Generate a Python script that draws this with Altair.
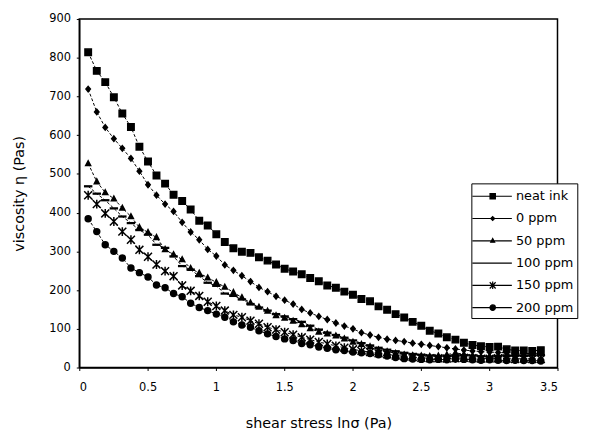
import altair as alt
import pandas as pd

# shear stress ln(sigma) grid (Pa)
x_vals = [0.065, 0.128, 0.19, 0.253, 0.315, 0.378, 0.44, 0.503, 0.565, 0.628,
          0.69, 0.753, 0.815, 0.878, 0.94, 1.003, 1.065, 1.128, 1.19, 1.253,
          1.315, 1.378, 1.44, 1.503, 1.565, 1.628, 1.69, 1.753, 1.815, 1.878,
          1.94, 2.003, 2.065, 2.128, 2.19, 2.253, 2.315, 2.378, 2.44, 2.503,
          2.565, 2.628, 2.69, 2.753, 2.815, 2.878, 2.94, 3.003, 3.065, 3.128,
          3.19, 3.253, 3.315, 3.378]

neat_ink = [814, 766, 737, 698, 656, 621, 570, 532, 496, 475,
            446, 430, 408, 379, 367, 344, 324, 308, 299, 296,
            285, 276, 266, 255, 248, 241, 231, 223, 212, 206,
            196, 188, 177, 171, 158, 149, 138, 129, 118, 108,
            95, 88, 78, 72, 64, 58, 55, 53, 54, 47,
            44, 44, 43, 45]

ppm_0 = [719, 660, 620, 591, 566, 540, 507, 472, 445, 422,
         403, 375, 350, 330, 305, 288, 265, 251, 237, 222,
         207, 196, 184, 174, 164, 150, 141, 132, 124, 115,
         107, 100, 90, 84, 78, 73, 70, 67, 63, 60,
         57, 54, 51, 48, 45, 43, 41, 40, 39, 38,
         37, 36, 36, 35]

ppm_50 = [527, 480, 452, 436, 412, 390, 362, 349, 336, 305,
          292, 279, 256, 244, 232, 220, 208, 194, 181, 167,
          156, 146, 134, 128, 120, 111, 101, 92, 87, 82,
          74, 66, 60, 54, 46, 41, 37, 33, 31, 30,
          29, 30, 33, 38, 34, 30, 28, 29, 31, 33,
          34, 35, 36, 37]

ppm_100 = [468, 449, 432, 411, 390, 373, 355, 343, 317, 309,
           287, 262, 253, 236, 219, 211, 191, 185, 176, 164,
           155, 147, 138, 132, 125, 118, 108, 98, 90, 84,
           77, 70, 63, 57, 51, 46, 42, 38, 35, 33,
           31, 30, 29, 30, 32, 31, 29, 28, 29, 30,
           31, 30, 31, 32]

ppm_150 = [445, 422, 398, 377, 351, 330, 304, 286, 266, 249,
           236, 212, 198, 185, 170, 159, 147, 136, 130, 121,
           113, 104, 98, 91, 85, 78, 72, 66, 61, 56,
           51, 47, 43, 40, 37, 34, 31, 29, 27, 25,
           24, 24, 23, 24, 25, 24, 23, 23, 24, 23,
           22, 23, 22, 22]

ppm_200 = [384, 351, 317, 300, 283, 257, 245, 234, 213, 206,
           191, 183, 166, 155, 147, 138, 130, 118, 110, 104,
           95, 87, 80, 74, 70, 62, 59, 53, 50, 46,
           44, 40, 38, 36, 33, 30, 26, 23, 22, 21,
           20, 21, 20, 22, 21, 20, 19, 20, 19, 18,
           19, 18, 18, 17]

series_names = ["neat ink", "0 ppm", "50 ppm", "100 ppm", "150 ppm", "200 ppm"]
series_values = [neat_ink, ppm_0, ppm_50, ppm_100, ppm_150, ppm_200]

rows = []
for name, vals in zip(series_names, series_values):
    for xv, yv in zip(x_vals, vals):
        rows.append({"x": xv, "y": yv, "series": name})
df = pd.DataFrame(rows)

# plot marker shapes (unit space, size=100 -> 5px per unit)
plot_shapes = [
    "M-0.65,-0.65H0.65V0.65H-0.65Z",
    "M0,-0.55L0.45,0L0,0.55L-0.45,0Z",
    "M0,-0.55L0.5,0.4H-0.5Z",
    "M-0.7,-0.08H0.7V0.08H-0.7Z",
    "M-0.8,-0.8L0.8,0.8M-0.8,0.8L0.8,-0.8M0,-0.9V0.9",
    "M-0.6,0A0.6,0.6,0,1,1,0.6,0A0.6,0.6,0,1,1,-0.6,0Z",
]

# legend symbols: line with marker (unit = 9px at size 324)
legend_shapes = [
    "M-1.33,0H3.1M0.65,-0.3H1.25V0.3H0.65Z",
    "M-1.33,0H3.1M0.95,-0.22L1.17,0L0.95,0.22L0.73,0Z",
    "M-1.33,0H3.1M0.95,-0.25L1.17,0.15H0.73Z",
    "M-1.33,0H3.1",
    "M-1.33,0H3.1M0.62,-0.35L1.28,0.35M0.62,0.35L1.28,-0.35M0.95,-0.42V0.42",
    "M-1.33,0H3.1M0.65,0A0.3,0.3,0,1,1,1.25,0A0.3,0.3,0,1,1,0.65,0Z",
]

FONT = "DejaVu Sans"

x_enc = alt.X("x:Q", scale=alt.Scale(domain=[0, 3.5], nice=False),
              axis=alt.Axis(title="shear stress lnσ (Pa)",
                            values=[0, 0.5, 1, 1.5, 2, 2.5, 3, 3.5],
                            format=".1~f", grid=False))
y_enc = alt.Y("y:Q", scale=alt.Scale(domain=[0, 900], nice=False),
              axis=alt.Axis(title="viscosity η (Pas)",
                            values=list(range(0, 901, 100)), grid=False))

lines = alt.Chart(df).mark_line(color="black", strokeWidth=1,
                                strokeDash=[3, 2]).encode(
    x=x_enc, y=y_enc, detail="series:N")

points = alt.Chart(df).mark_point(filled=True, fill="black", stroke="black",
                                  strokeWidth=1.5, opacity=1, size=100).encode(
    x=x_enc, y=y_enc,
    shape=alt.Shape("series:N",
                    scale=alt.Scale(domain=series_names, range=plot_shapes),
                    legend=None))

legend_layer = alt.Chart(df).transform_filter("datum.x > 100").mark_point(
    filled=False, color="black", fill="black", fillOpacity=1, opacity=1,
    strokeWidth=1.2, size=324).encode(
    x=x_enc, y=y_enc,
    shape=alt.Shape("series:N",
                    scale=alt.Scale(domain=series_names, range=legend_shapes),
                    legend=alt.Legend(title=None, orient="none",
                                      legendX=396, legendY=166,
                                      strokeColor="black", fillColor="white",
                                      padding=3, rowPadding=5.5,
                                      symbolSize=324, labelOffset=22,
                                      labelFont=FONT, labelFontSize=13,
                                      labelColor="black",
                                      symbolStrokeWidth=1.2,
                                      symbolFillColor="black")))

chart = alt.layer(lines, points, legend_layer).resolve_scale(
    shape="independent").resolve_legend(shape="independent").properties(
    width=483, height=352,
    autosize=alt.AutoSizeParams(type="none"),
    padding={"left": 72, "top": 9, "right": 50, "bottom": 65},
).configure_view(stroke="black", strokeWidth=1.5).configure_axis(
    domainColor="black", domainWidth=1.5, tickColor="black", tickSize=3,
    labelFont=FONT, labelFontSize=11.5, labelColor="black",
    titleFont=FONT, titleFontSize=14.5, titleFontWeight="normal",
    titleColor="black",
).configure_axisY(labelPadding=6, titlePadding=22).configure_axisX(
    labelPadding=11, titlePadding=24)

chart.save("out.html", embed_options={"renderer": "svg", "actions": False})
